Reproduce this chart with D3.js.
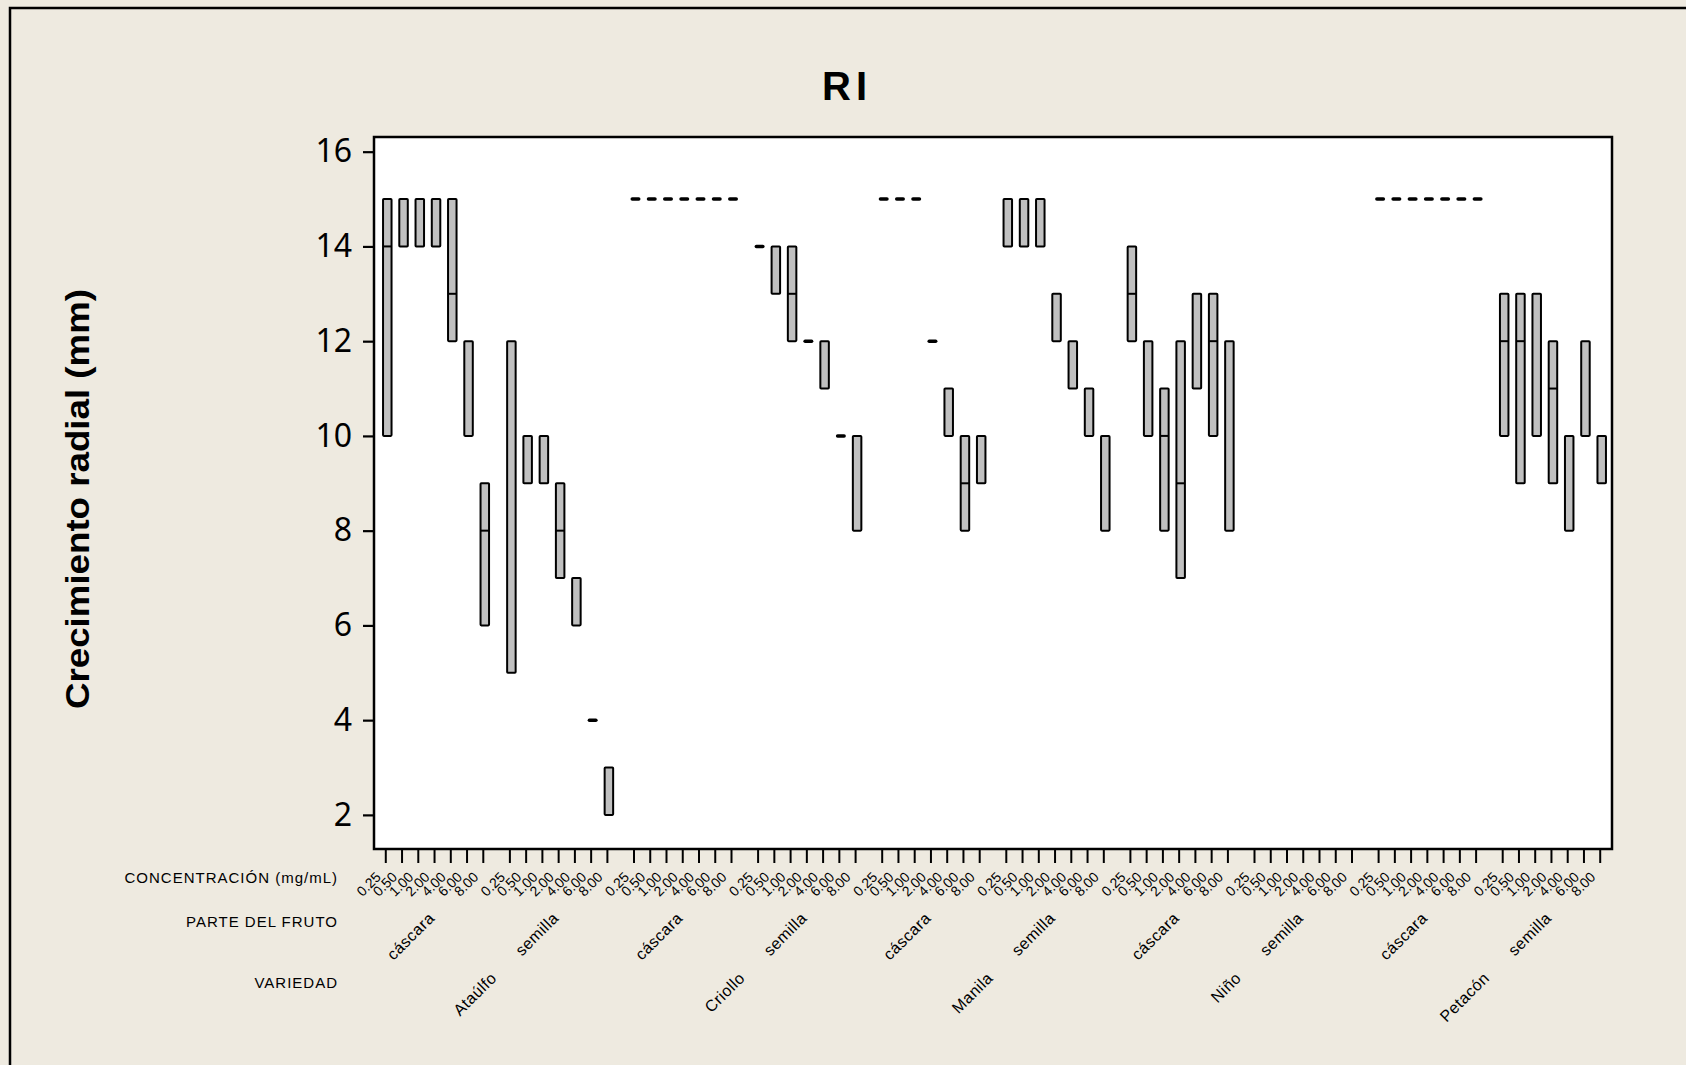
<!DOCTYPE html>
<html>
<head>
<meta charset="utf-8">
<script src="https://cdn.jsdelivr.net/npm/d3@7"></script>
<style>
  html, body { margin: 0; padding: 0; background: #EEEAE0; }
  svg { display: block; }
</style>
</head>
<body>
<svg id="chart" width="1686" height="1065"></svg>
<script>
// ---------------- DATA ----------------
const chartTitle = "RI";
const yTitle = "Crecimiento radial (mm)";
const varieties = ["Ataúlfo", "Criollo", "Manila", "Niño", "Petacón"];
const partes = ["cáscara", "semilla"];
const concentrations = ["0.25", "0.50", "1.00", "2.00", "4.00", "6.00", "8.00"];
const yTicks = [2, 4, 6, 8, 10, 12, 14, 16];
const rowLabels = ["CONCENTRACIÓN (mg/mL)", "PARTE DEL FRUTO", "VARIEDAD"];

// one entry per variety × parte group, 7 concentrations each (null = no data)
const q1Values = [
  [10, 14, 14, 14, 12, 10, 6],          // Ataúlfo cáscara
  [5, 9, 9, 7, 6, 4, 2],                // Ataúlfo semilla
  [15, 15, 15, 15, 15, 15, 15],         // Criollo cáscara
  [14, 13, 12, 12, 11, 10, 8],          // Criollo semilla
  [15, 15, 15, 12, 10, 8, 9],           // Manila cáscara
  [14, 14, 14, 12, 11, 10, 8],          // Manila semilla
  [12, 10, 8, 7, 11, 10, 8],            // Niño cáscara
  [null, null, null, null, null, null, null], // Niño semilla
  [15, 15, 15, 15, 15, 15, 15],         // Petacón cáscara
  [10, 9, 10, 9, 8, 10, 9]              // Petacón semilla
];
const medianValues = [
  [14, 15, 15, 15, 13, 12, 8],
  [12, 9, 9, 8, 6, 4, 2],
  [15, 15, 15, 15, 15, 15, 15],
  [14, 13, 13, 12, 11, 10, 8],
  [15, 15, 15, 12, 10, 9, 9],
  [14, 14, 14, 12, 11, 10, 8],
  [13, 10, 10, 9, 11, 12, 8],
  [null, null, null, null, null, null, null],
  [15, 15, 15, 15, 15, 15, 15],
  [12, 12, 10, 11, 8, 10, 9]
];
const q3Values = [
  [15, 15, 15, 15, 15, 12, 9],
  [12, 10, 10, 9, 7, 4, 3],
  [15, 15, 15, 15, 15, 15, 15],
  [14, 14, 14, 12, 12, 10, 10],
  [15, 15, 15, 12, 11, 10, 10],
  [15, 15, 15, 13, 12, 11, 10],
  [14, 12, 11, 12, 13, 13, 12],
  [null, null, null, null, null, null, null],
  [15, 15, 15, 15, 15, 15, 15],
  [13, 13, 13, 12, 10, 12, 10]
];

// ---------------- LAYOUT ----------------
const svg = d3.select("#chart");
const W = 1686, H = 1065;
const plot = { left: 374, right: 1612, top: 137, bottom: 849 };

// background + frame
svg.append("rect").attr("x", 0).attr("y", 0).attr("width", W).attr("height", H).attr("fill", "#EEEAE0");
svg.append("rect").attr("x", 10).attr("y", 8).attr("width", W + 20).attr("height", H + 20)
  .attr("fill", "#EEEAE0").attr("stroke", "#000").attr("stroke-width", 2.5);

// groups
const groups = [];
varieties.forEach(v => partes.forEach(p => groups.push({ key: v + "|" + p, variety: v, parte: p })));

const xGroup = d3.scaleBand()
  .domain(groups.map(g => g.key))
  .range([plot.left, plot.right])
  .paddingInner(0.2143)
  .paddingOuter(0.095);
const xConc = d3.scalePoint()
  .domain(concentrations)
  .range([0, xGroup.bandwidth()]);
const xPos = (gKey, c) => xGroup(gKey) + xConc(c);

const y = d3.scaleLinear().domain([1.28, 16.31]).range([plot.bottom, plot.top]);

// plot area
svg.append("rect").attr("x", plot.left).attr("y", plot.top)
  .attr("width", plot.right - plot.left).attr("height", plot.bottom - plot.top)
  .attr("fill", "#fff");

// build records
const records = [];
groups.forEach((g, gi) => {
  concentrations.forEach((c, ci) => {
    records.push({ g: g.key, c, q1: q1Values[gi][ci], med: medianValues[gi][ci], q3: q3Values[gi][ci] });
  });
});
const valid = records.filter(d => d.q1 != null);

const boxW = 8.5;
const marks = svg.append("g");
// normal boxes
marks.selectAll("rect.box").data(valid.filter(d => d.q3 > d.q1)).join("rect")
  .attr("class", "box")
  .attr("x", d => xPos(d.g, d.c) + 1.5 - boxW / 2)
  .attr("y", d => y(d.q3))
  .attr("width", boxW)
  .attr("height", d => y(d.q1) - y(d.q3))
  .attr("fill", "#C0C0C0")
  .attr("stroke", "#000")
  .attr("stroke-width", 2)
  .attr("rx", 0.8);
// medians
marks.selectAll("line.med").data(valid.filter(d => d.q3 > d.q1 && d.med > d.q1 && d.med < d.q3)).join("line")
  .attr("class", "med")
  .attr("x1", d => xPos(d.g, d.c) + 1.5 - boxW / 2)
  .attr("x2", d => xPos(d.g, d.c) + 1.5 + boxW / 2)
  .attr("y1", d => y(d.med)).attr("y2", d => y(d.med))
  .attr("stroke", "#000").attr("stroke-width", 2);
// flat boxes (all values equal)
marks.selectAll("line.flat").data(valid.filter(d => d.q3 === d.q1)).join("line")
  .attr("class", "flat")
  .attr("x1", d => xPos(d.g, d.c) + 1.5 - boxW / 2 + 1)
  .attr("x2", d => xPos(d.g, d.c) + 1.5 + boxW / 2 - 1)
  .attr("y1", d => y(d.q1)).attr("y2", d => y(d.q1))
  .attr("stroke", "#000").attr("stroke-width", 3.5).attr("stroke-linecap", "round");

// frame
svg.append("rect").attr("x", plot.left).attr("y", plot.top)
  .attr("width", plot.right - plot.left).attr("height", plot.bottom - plot.top)
  .attr("fill", "none").attr("stroke", "#000").attr("stroke-width", 2.5);

// y axis
const yAxis = svg.append("g").attr("transform", `translate(${plot.left},0)`)
  .call(d3.axisLeft(y).tickValues(yTicks).tickSize(11).tickPadding(11).tickFormat(d3.format("d")));
yAxis.select(".domain").remove();
yAxis.selectAll(".tick line").attr("stroke", "#000").attr("stroke-width", 2.2);
yAxis.selectAll(".tick text").attr("font-family", "'Noto Sans', sans-serif").attr("font-size", 32).attr("fill", "#000");

// x ticks
svg.append("g").selectAll("line").data(records).join("line")
  .attr("x1", d => xPos(d.g, d.c)).attr("x2", d => xPos(d.g, d.c))
  .attr("y1", plot.bottom).attr("y2", plot.bottom + 14)
  .attr("stroke", "#000").attr("stroke-width", 2);

// concentration labels
svg.append("g").selectAll("text").data(records).join("text")
  .attr("transform", d => `translate(${xPos(d.g, d.c) - 4},878) rotate(-45)`)
  .attr("text-anchor", "end")
  .attr("font-family", "'Liberation Sans', Arial, sans-serif")
  .attr("font-size", 14)
  .attr("fill", "#000")
  .text(d => d.c);

// parte labels
svg.append("g").selectAll("text").data(groups).join("text")
  .attr("transform", g => `translate(${xGroup(g.key) + xGroup.bandwidth() / 2 + 1},919) rotate(-45)`)
  .attr("text-anchor", "end")
  .attr("font-family", "'Liberation Sans', Arial, sans-serif")
  .attr("font-size", 16)
  .attr("letter-spacing", 0.5)
  .attr("fill", "#000")
  .text(g => g.parte);

// variety labels
svg.append("g").selectAll("text").data(varieties).join("text")
  .attr("transform", v => {
    const a = xGroup(v + "|" + partes[0]) + xConc(concentrations[0]);
    const b = xGroup(v + "|" + partes[partes.length - 1]) + xConc(concentrations[concentrations.length - 1]);
    return `translate(${(a + b) / 2 + 1},979) rotate(-45)`;
  })
  .attr("text-anchor", "end")
  .attr("font-family", "'Liberation Sans', Arial, sans-serif")
  .attr("font-size", 16)
  .attr("letter-spacing", 0.5)
  .attr("fill", "#000")
  .text(v => v);

// row labels
const rowY = [877, 921, 982];
svg.append("g").selectAll("text").data(rowLabels).join("text")
  .attr("x", 338).attr("y", (d, i) => rowY[i])
  .attr("text-anchor", "end")
  .attr("dominant-baseline", "central")
  .attr("font-family", "'Liberation Sans', Arial, sans-serif")
  .attr("font-size", 15)
  .attr("letter-spacing", 1)
  .attr("fill", "#000")
  .text(d => d);

// title
svg.append("text").attr("x", 847).attr("y", 100)
  .attr("text-anchor", "middle")
  .attr("font-family", "'Liberation Sans', Arial, sans-serif")
  .attr("font-weight", "bold").attr("font-size", 40).attr("letter-spacing", 5)
  .attr("fill", "#000")
  .text(chartTitle);

// y title
svg.append("text")
  .attr("transform", "translate(77,499) rotate(-90)")
  .attr("text-anchor", "middle")
  .attr("dominant-baseline", "central")
  .attr("font-family", "'Liberation Sans', Arial, sans-serif")
  .attr("font-weight", "bold").attr("font-size", 34)
  .attr("textLength", 420).attr("lengthAdjust", "spacingAndGlyphs")
  .attr("fill", "#000")
  .text(yTitle);
</script>
</body>
</html>
